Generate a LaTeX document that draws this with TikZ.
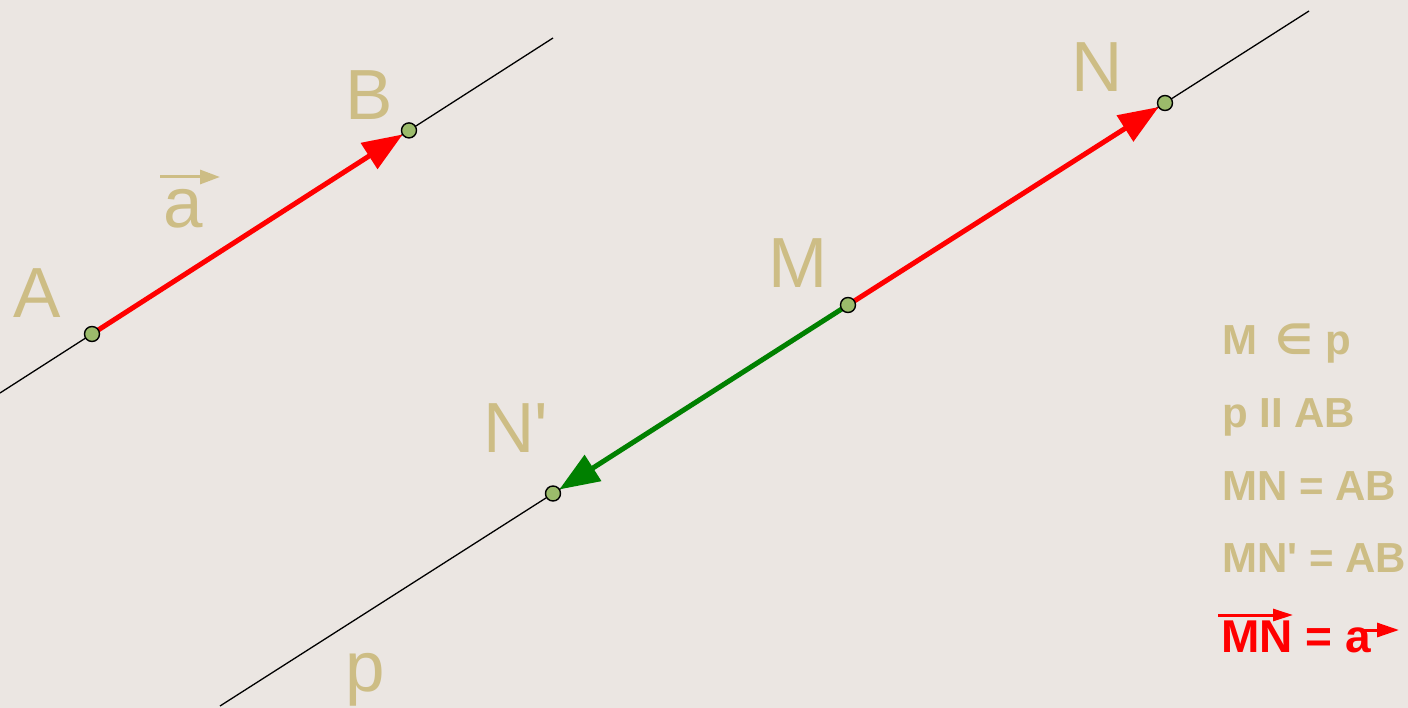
\documentclass[tikz,border=0pt]{standalone}
\usepackage{fontspec}
\setmainfont{Liberation Sans}[Ligatures=TeXOff]
\newfontfamily\djv{DejaVu Sans}
\usetikzlibrary{arrows.meta}
\definecolor{bg}{HTML}{EBE6E2}
\definecolor{tan}{HTML}{CDBD85}
\definecolor{ptfill}{HTML}{9BBB6B}
\definecolor{vred}{HTML}{FF0000}
\definecolor{vgreen}{HTML}{008000}
\begin{document}
\begin{tikzpicture}[x=1pt,y=-1pt,
  ptmark/.style={circle,draw=black,fill=ptfill,line width=1.4pt,minimum size=15pt,inner sep=0pt},
  lbl/.style={text=tan,font=\fontsize{71}{71}\selectfont,inner sep=0pt,anchor=base},
  rel/.style={text=tan,font=\bfseries\fontsize{42}{42}\selectfont,inner sep=0pt,anchor=base west},
  gline/.style={draw=black,line width=1.3pt},
  vecarrow/.style={line width=5pt,-{Triangle[length=40pt,width=30pt]},shorten >=7.5pt},
  smallvec/.style={line width=3pt,-{Triangle[length=20pt,width=14pt]}}
]
\fill[bg] (0,0) rectangle (1408,708);
\useasboundingbox (0,0) rectangle (1408,708);
% positions
\coordinate (A) at (92,334);
\coordinate (B) at (409,130.4);
\coordinate (M) at (848,305);
\coordinate (N) at (1165,103);
\coordinate (Np) at (553,493.5);
\coordinate (L1s) at (0,393);
\coordinate (L1e) at (553,38);
\coordinate (ps) at (220,706);
\coordinate (pe) at (1309,11);
% lines
\draw[gline] (L1s) -- (L1e);
\draw[gline] (ps) -- (pe);
% vectors
\draw[vecarrow,vred] (A) -- (B);
\draw[vecarrow,vred] (M) -- (N);
\draw[vecarrow,vgreen] (M) -- (Np);
% points
\node[ptmark] (pA) at (A) {};
\node[ptmark] (pB) at (B) {};
\node[ptmark] (pM) at (M) {};
\node[ptmark] (pN) at (N) {};
\node[ptmark] (pNp) at (Np) {};
% labels
\node[lbl] (tA) at (37,318) {A};
\node[lbl] (tB) at (369,120) {B};
\node[lbl] (tM) at (798,288) {M};
\node[lbl] (tN) at (1097,92) {N};
\node[lbl] (tNp) at (516,452) {N'};
\node[lbl] (tp) at (365,691) {p};
\node[lbl] (ta) at (183,228) {a};
\draw[smallvec,tan] (160,177) -- (220,177);
% relations
\node[rel] (r1) at (1222,355) {M\, {\djv\bfseries ∈} p};
\node[rel] (r2) at (1222,427) {p II AB};
\node[rel] (r3) at (1222,500) {MN = AB};
\node[rel] (r4) at (1222,572) {MN' = AB};
\node[rel,text=vred,font=\bfseries\fontsize{46}{46}\selectfont] (r5) at (1221,652) {MN = a};
\draw[smallvec,vred,-{Triangle[length=20pt,width=12pt]}] (1218,615) -- (1293,615);
\draw[smallvec,vred,-{Triangle[length=22pt,width=14pt]}] (1362,630) -- (1399,630);
\end{tikzpicture}
\end{document}
